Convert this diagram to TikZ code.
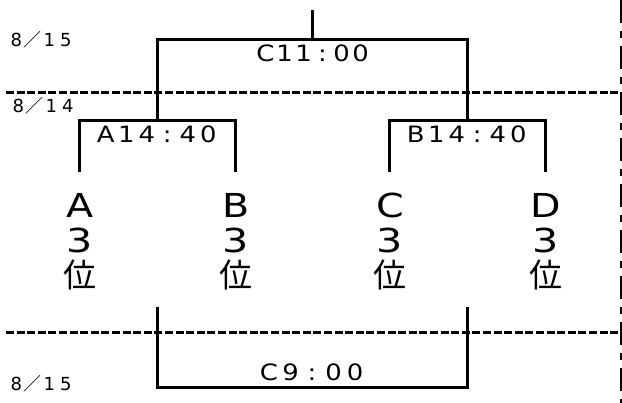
\documentclass[tikz,border=0pt]{standalone}
\usepackage{fontspec}
\usepackage{graphicx}
\setmainfont{DejaVu Sans}
\newfontfamily\jpfont{Noto Sans CJK JP}
\usetikzlibrary{positioning}

% one fixed-width cell per character, glyph widened
\makeatletter
\newcommand\cells[3]{\@tfor\ch:=#3\do{\makebox[#1]{\scalebox{#2}[1]{\ch}}}}
\makeatother
\newcommand\fwslash{{\jpfont ／}}
\newcommand\rank{{\jpfont 位}}

\begin{document}
\begin{tikzpicture}[
    x=1pt, y=-1pt,
    bracket/.style={line width=3pt},
    dayline/.style={line width=3pt, dash pattern=on 8pt off 2.6pt},
    edgeline/.style={line width=1.3pt, dash pattern=on 23pt off 8pt on 7pt off 8pt},
    team/.style={font=\fontsize{33}{35}\selectfont, align=center, inner sep=0pt},
    slot/.style={font=\fontsize{22.5}{23}\selectfont, inner sep=0pt, anchor=base},
    day/.style={font=\fontsize{18}{18}\selectfont, inner sep=0pt, anchor=base west},
]
\useasboundingbox (0,0) rectangle (622,403);

% Teams
\node[team] (teamA) at (80,242) {\scalebox{1.2}[1]{A}\\\scalebox{1.25}[1]{3}\\\rank};
\node[team] (teamB) at (236,242) {\scalebox{1.2}[1]{B}\\\scalebox{1.25}[1]{3}\\\rank};
\node[team] (teamC) at (390,242) {\scalebox{1.2}[1]{C}\\\scalebox{1.25}[1]{3}\\\rank};
\node[team] (teamD) at (546,242) {\scalebox{1.2}[1]{D}\\\scalebox{1.25}[1]{3}\\\rank};

% Bracket points
\coordinate (footA) at (79,172);
\coordinate (footB) at (235,172);
\coordinate (footC) at (389,172);
\coordinate (footD) at (545,172);
\coordinate (semiL) at (157,121);
\coordinate (semiR) at (467,121);
\coordinate (final) at (312,40);
\coordinate (top) at (312,10);
\coordinate (lowL) at (157,307);
\coordinate (lowR) at (467,307);
\coordinate (third) at (312,388);

% Day separators
\coordinate (dayL1) at (6,93);
\coordinate (dayR1) at (620,93);
\coordinate (dayL2) at (6,333);
\coordinate (dayR2) at (620,333);
\draw[dayline] (dayL1) -- (dayR1);
\draw[dayline] (dayL2) -- (dayR2);
\coordinate (edgeT) at (621,0);
\coordinate (edgeB) at (621,403);
\draw[edgeline] (edgeT) -- (edgeB);

% Semi-finals
\draw[bracket] (footA) |- (semiL) -| (footB);
\draw[bracket] (footC) |- (semiR) -| (footD);

% Final
\draw[bracket] (semiL) |- (final) -| (semiR);
\draw[bracket] (final) -- (top);

% Third place
\draw[bracket] (lowL) |- (third) -| (lowR);

% Times
\node[slot] (timeFinal) at (313,62) {\cells{19pt}{1.15}{C11:00}};
\node[slot] (timeSemiL) at (157,143) {\cells{20.5pt}{1.15}{A14:40}};
\node[slot] (timeSemiR) at (467,143) {\cells{20.5pt}{1.15}{B14:40}};
\node[slot] (timeThird) at (312,381) {\cells{21.5pt}{1.15}{C9:00}};

% Dates
\node[day] (dateTop) at (8,47) {\cells{16.5pt}{1}{8\fwslash 15}};
\node[day] (dateMid) at (10,113) {\cells{16.5pt}{1}{8\fwslash 14}};
\node[day] (dateBot) at (8,391) {\cells{16.5pt}{1}{8\fwslash 15}};

\end{tikzpicture}
\end{document}
